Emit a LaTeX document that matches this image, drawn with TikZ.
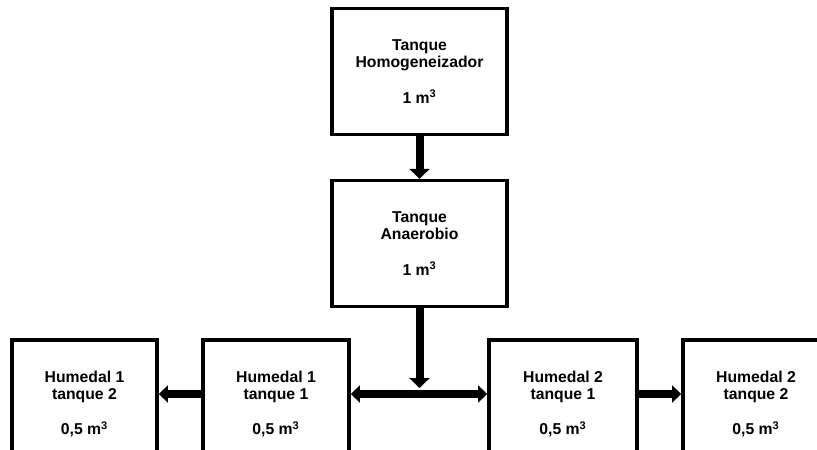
\documentclass[tikz,border=0pt]{standalone}
\usepackage{fontspec}
\setmainfont{Liberation Sans}
\usetikzlibrary{arrows.meta}
\tikzset{>={Triangle[length=2.5mm, width=5mm]}}
\tikzset{tanque/.style = {draw, line width=2.4pt, align=center, inner sep=0pt,
    font=\fontsize{11.2}{12.1}\selectfont\bfseries,
    minimum width=4.375cm, minimum height=3.15cm},
  humedal/.style = {tanque, minimum width=3.65cm, minimum height=3.2cm},
  flujo/.style = {line width=0.2cm},
  flujoh/.style = {line width=0.19cm, >={Triangle[length=2.3mm, width=4.2mm]}}}

\begin{document}
\begin{tikzpicture}[x=0.025cm, y=-0.025cm]
\useasboundingbox (0,0) rectangle (817,449);
\clip (0,0) rectangle (817,449);
\node[tanque] (homog) at (419.5, 71.5) {Tanque\\Homogeneizador\\[13pt]1 m\textsuperscript{3}};
\node[tanque] (anaer) at (419.5, 243.5) {Tanque\\Anaerobio\\[13pt]1 m\textsuperscript{3}};
\node[humedal, minimum width=3.625cm] (h1t2) at (84.5, 404) {Humedal 1\\tanque 2\\[13pt]0,5 m\textsuperscript{3}};
\node[humedal] (h1t1) at (276, 404) {Humedal 1\\tanque 1\\[13pt]0,5 m\textsuperscript{3}};
\node[humedal, minimum width=3.7cm] (h2t1) at (563, 404) {Humedal 2\\tanque 1\\[13pt]0,5 m\textsuperscript{3}};
\node[humedal] (h2t2) at (756, 404) {Humedal 2\\tanque 2\\[13pt]0,5 m\textsuperscript{3}};
\coordinate (bus) at (419.5, 394);
\coordinate (caida) at (419.5, 388);
\draw[flujo, ->] (homog) -- (anaer);
\draw[flujo, ->] (anaer) -- (caida);
\draw[flujoh, <->] (h1t1.east |- bus) -- (h2t1.west |- bus);
\draw[flujoh, ->] (h1t1.west |- bus) -- (h1t2.east |- bus);
\draw[flujoh, ->] (h2t1.east |- bus) -- (h2t2.west |- bus);
\end{tikzpicture}
\end{document}
